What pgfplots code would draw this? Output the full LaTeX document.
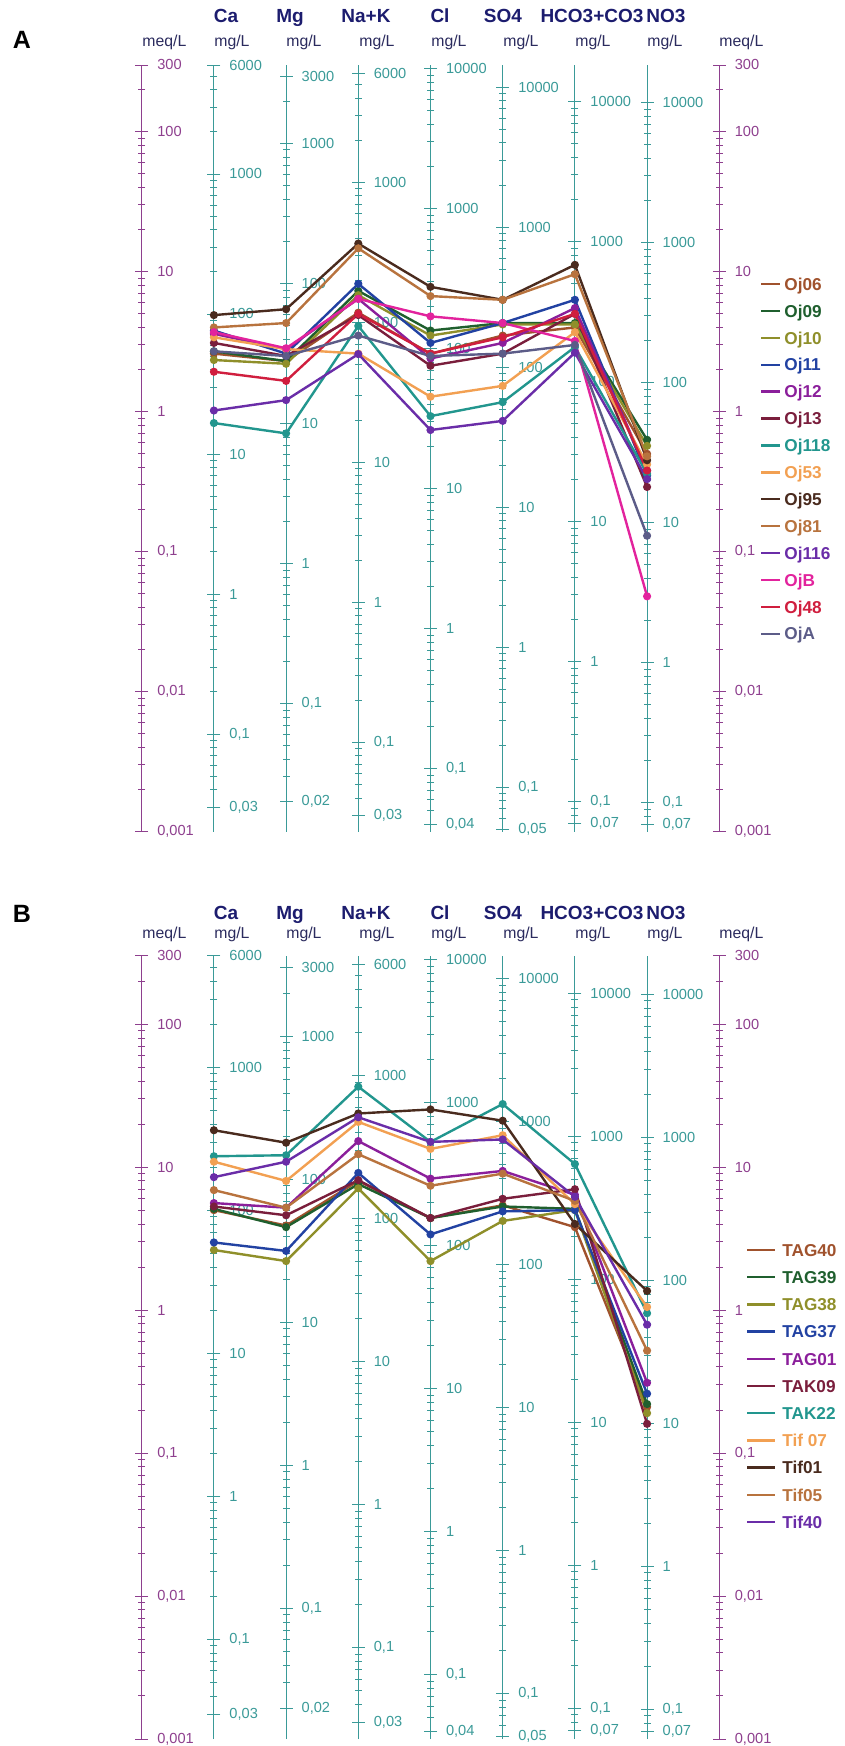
\documentclass[border=0pt]{standalone}
\usepackage{pgfplots}
\pgfplotsset{compat=1.18}
\usepackage{fontspec}
\setmainfont{Liberation Sans}

\definecolor{meqc}{HTML}{8E3F8E}
\definecolor{mgc}{HTML}{3A9A98}
\definecolor{hdr}{HTML}{1C1C6E}
\definecolor{unitc}{HTML}{2B2B5E}
\definecolor{cA1}{HTML}{A0522D}
\definecolor{cA2}{HTML}{1F5F2E}
\definecolor{cA3}{HTML}{8F8F2A}
\definecolor{cA4}{HTML}{2242A2}
\definecolor{cA5}{HTML}{8B1F9B}
\definecolor{cA6}{HTML}{7A1E3C}
\definecolor{cA7}{HTML}{22968E}
\definecolor{cA8}{HTML}{F2A052}
\definecolor{cA9}{HTML}{4A2B1E}
\definecolor{cA10}{HTML}{B8733E}
\definecolor{cA11}{HTML}{6A2DA8}
\definecolor{cA12}{HTML}{E2239D}
\definecolor{cA13}{HTML}{D01E3E}
\definecolor{cA14}{HTML}{5C5C88}

% #1 x, #2 ybottom, #3 height, #4 ymin, #5 ymax, #6 ticks, #7 labels, #8 colour
\newcommand\scaxM[8]{%
  \begin{axis}[scale only axis, width=8pt, xmin=0, xmax=1, ymode=log,
    axis x line=none, axis y line=right, anchor=south east,
    at={(#1,#2)}, height=#3, ymin=#4, ymax=#5,
    axis line style={-, line width=0.45pt, draw=#8},
    tick align=center, major tick length=6.5pt, minor tick length=3.5pt,
    tick style={line width=0.45pt, color=#8},
    yticklabel style={font=\fontsize{7.3}{8}\selectfont, xshift=1pt, text=#8},
    ytick={#6}, yticklabels={#7},
    minor ytick={0.002,0.003,0.004,0.005,0.006,0.007,0.008,0.009,0.02,0.03,0.04,0.05,0.06,0.07,0.08,0.09,0.2,0.3,0.4,0.5,0.6,0.7,0.8,0.9,2,3,4,5,6,7,8,9,20,30,40,50,60,70,80,90,200}]
  \end{axis}}
\newcommand\scaxI[8]{%
  \begin{axis}[scale only axis, width=8pt, xmin=0, xmax=1, ymode=log,
    axis x line=none, axis y line=right, anchor=south east,
    at={(#1,#2)}, height=#3, ymin=#4, ymax=#5,
    axis line style={-, line width=0.45pt, draw=#8},
    tick align=center, major tick length=6.5pt, minor tick length=3.5pt,
    tick style={line width=0.45pt, color=#8},
    yticklabel style={font=\fontsize{7.3}{8}\selectfont, xshift=1pt, text=#8},
    ytick={#6}, yticklabels={#7},
    minor ytick={0.02,0.03,0.04,0.05,0.06,0.07,0.08,0.09,0.2,0.3,0.4,0.5,0.6,0.7,0.8,0.9,2,3,4,5,6,7,8,9,20,30,40,50,60,70,80,90,200,300,400,500,600,700,800,900,2000,3000,4000,5000,6000,7000,8000,9000}]
  \end{axis}}

\newcommand\scales[2]{%
  \scaxM{70.85pt}{#1}{#2}{0.000999}{300.3}{0.001,0.01,0.1,1,10,100,300}{{0,001},{0,01},{0,1},1,10,100,300}{meqc}
  \scaxI{106.95pt}{#1}{#2}{0.02004}{6012}{0.03,0.1,1,10,100,1000,6000}{{0,03},{0,1},1,10,100,1000,6000}{mgc}
  \scaxI{143.05pt}{#1}{#2}{0.01215}{3645}{0.02,0.1,1,10,100,1000,3000}{{0,02},{0,1},1,10,100,1000,3000}{mgc}
  \scaxI{179.15pt}{#1}{#2}{0.023}{6900}{0.03,0.1,1,10,100,1000,6000}{{0,03},{0,1},1,10,100,1000,6000}{mgc}
  \scaxI{215.25pt}{#1}{#2}{0.03545}{10635}{0.04,0.1,1,10,100,1000,10000}{{0,04},{0,1},1,10,100,1000,10000}{mgc}
  \scaxI{251.35pt}{#1}{#2}{0.04803}{14409}{0.05,0.1,1,10,100,1000,10000}{{0,05},{0,1},1,10,100,1000,10000}{mgc}
  \scaxI{287.45pt}{#1}{#2}{0.06102}{18306}{0.07,0.1,1,10,100,1000,10000}{{0,07},{0,1},1,10,100,1000,10000}{mgc}
  \scaxI{323.55pt}{#1}{#2}{0.062}{18600}{0.07,0.1,1,10,100,1000,10000}{{0,07},{0,1},1,10,100,1000,10000}{mgc}
  \scaxM{359.65pt}{#1}{#2}{0.000999}{300.3}{0.001,0.01,0.1,1,10,100,300}{{0,001},{0,01},{0,1},1,10,100,300}{meqc}
}

% headers: #1 = baseline y of ion names, #2 = y of units, #3 letter, #4 y of letter
\newcommand\headers[4]{%
  \node[font=\bfseries\fontsize{12.5}{14}\selectfont] at (11pt,#4) {#3};
  \begin{scope}[every node/.style={font=\bfseries\fontsize{9.5}{11}\selectfont, text=hdr, anchor=base}]
    \node at (113pt,#1) {Ca};
    \node at (145pt,#1) {Mg};
    \node at (183pt,#1) {Na+K};
    \node at (220pt,#1) {Cl};
    \node at (251.5pt,#1) {SO4};
    \node at (296pt,#1) {HCO3+CO3};
    \node at (333pt,#1) {NO3};
  \end{scope}
  \begin{scope}[every node/.style={font=\fontsize{7.9}{9}\selectfont, text=unitc, anchor=west, inner sep=0pt}]
    \node at (71pt,#2) {meq/L};
    \node at (107pt,#2) {mg/L};
    \node at (143pt,#2) {mg/L};
    \node at (179.5pt,#2) {mg/L};
    \node at (215.5pt,#2) {mg/L};
    \node at (251.5pt,#2) {mg/L};
    \node at (287.5pt,#2) {mg/L};
    \node at (323.5pt,#2) {mg/L};
    \node at (359.5pt,#2) {meq/L};
  \end{scope}}

\pgfplotsset{ser/.style={color=#1, line width=1.2pt, mark=*, mark size=1.4pt,
    mark options={solid, fill=#1}}}

\begin{document}
\begin{tikzpicture}
\useasboundingbox (0pt,0pt) rectangle (422.5pt,-873pt);

\scales{-415.85pt}{383.4pt}
\scales{-869.5pt}{391.6pt}

\headers{-11pt}{-21pt}{A}{-20pt}
\headers{-459.5pt}{-467pt}{B}{-457pt}

% ---------------- Panel A ----------------
\begin{axis}[at={(70.85pt,-415.85pt)}, anchor=south west, scale only axis,
  width=288.8pt, height=383.4pt, xmin=0, xmax=8, ymode=log,
  ymin=0.000999, ymax=300.3, axis lines=none, clip=false,
  legend cell align=left,
  legend image code/.code={\draw[#1, line width=1.2pt] (0pt,0pt) -- (9.5pt,0pt);},
  legend style={at={(1.0705,0.7318)}, anchor=north west, draw=none, fill=none,
    inner sep=0pt, outer sep=0pt, row sep=0pt, column sep=1.5pt,
    nodes={inner sep=0pt, minimum height=13.45pt, text height=6.2pt, text depth=0pt,
      font=\bfseries\fontsize{8.6}{10}\selectfont}}]
\addplot[ser=cA1] coordinates {(1,2.6) (2,2.3) (3,5.1) (4,2.6) (5,3.5) (6,4.0) (7,0.50)};
\addlegendentry{\textcolor{cA1}{Oj06}}
\addplot[ser=cA2] coordinates {(1,2.7) (2,2.3) (3,7.3) (4,3.8) (5,4.3) (6,4.3) (7,0.63)};
\addlegendentry{\textcolor{cA2}{Oj09}}
\addplot[ser=cA3] coordinates {(1,2.34) (2,2.2) (3,6.8) (4,3.5) (5,4.2) (6,4.2) (7,0.57)};
\addlegendentry{\textcolor{cA3}{Oj10}}
\addplot[ser=cA4] coordinates {(1,3.8) (2,2.6) (3,8.2) (4,3.1) (5,4.3) (6,6.3) (7,0.35)};
\addlegendentry{\textcolor{cA4}{Oj11}}
\addplot[ser=cA5] coordinates {(1,3.6) (2,2.8) (3,6.4) (4,2.4) (5,3.1) (6,5.5) (7,0.38)};
\addlegendentry{\textcolor{cA5}{Oj12}}
\addplot[ser=cA6] coordinates {(1,3.1) (2,2.5) (3,4.9) (4,2.13) (5,2.6) (6,5.0) (7,0.29)};
\addlegendentry{\textcolor{cA6}{Oj13}}
\addplot[ser=cA7] coordinates {(1,0.83) (2,0.70) (3,4.1) (4,0.93) (5,1.17) (6,2.9) (7,0.36)};
\addlegendentry{\textcolor{cA7}{Oj118}}
\addplot[ser=cA8] coordinates {(1,3.4) (2,2.8) (3,2.6) (4,1.28) (5,1.53) (6,3.7) (7,0.42)};
\addlegendentry{\textcolor{cA8}{Oj53}}
\addplot[ser=cA9] coordinates {(1,4.9) (2,5.4) (3,15.9) (4,7.8) (5,6.3) (6,11.2) (7,0.45)};
\addlegendentry{\textcolor{cA9}{Oj95}}
\addplot[ser=cA10] coordinates {(1,4.0) (2,4.3) (3,14.7) (4,6.7) (5,6.3) (6,9.6) (7,0.48)};
\addlegendentry{\textcolor{cA10}{Oj81}}
\addplot[ser=cA11] coordinates {(1,1.02) (2,1.21) (3,2.58) (4,0.74) (5,0.86) (6,2.64) (7,0.33)};
\addlegendentry{\textcolor{cA11}{Oj116}}
\addplot[ser=cA12] coordinates {(1,3.7) (2,2.84) (3,6.4) (4,4.8) (5,4.3) (6,3.2) (7,0.048)};
\addlegendentry{\textcolor{cA12}{OjB}}
\addplot[ser=cA13] coordinates {(1,1.93) (2,1.66) (3,5.0) (4,2.6) (5,3.4) (6,5.0) (7,0.38)};
\addlegendentry{\textcolor{cA13}{Oj48}}
\addplot[ser=cA14] coordinates {(1,2.7) (2,2.5) (3,3.5) (4,2.5) (5,2.6) (6,3.0) (7,0.13)};
\addlegendentry{\textcolor{cA14}{OjA}}
\end{axis}

% ---------------- Panel B ----------------
\begin{axis}[at={(70.85pt,-869.5pt)}, anchor=south west, scale only axis,
  width=288.8pt, height=391.6pt, xmin=0, xmax=8, ymode=log,
  ymin=0.000999, ymax=300.3, axis lines=none, clip=false,
  legend cell align=left,
  legend image code/.code={\draw[#1, line width=1.2pt] (0pt,0pt) -- (14pt,0pt);},
  legend style={at={(1.0462,0.6417)}, anchor=north west, draw=none, fill=none,
    inner sep=0pt, outer sep=0pt, row sep=0pt, column sep=3pt,
    nodes={inner sep=0pt, minimum height=13.6pt, text height=6.2pt, text depth=0pt,
      font=\bfseries\fontsize{8.6}{10}\selectfont}}]
\addplot[ser=cA1] coordinates {(1,5.0) (2,3.9) (3,8.0) (4,4.4) (5,5.4) (6,3.8) (7,0.21)};
\addlegendentry{\textcolor{cA1}{TAG40}}
\addplot[ser=cA2] coordinates {(1,5.1) (2,3.8) (3,7.6) (4,4.4) (5,5.3) (6,5.1) (7,0.22)};
\addlegendentry{\textcolor{cA2}{TAG39}}
\addplot[ser=cA3] coordinates {(1,2.63) (2,2.2) (3,7.1) (4,2.2) (5,4.2) (6,5.0) (7,0.19)};
\addlegendentry{\textcolor{cA3}{TAG38}}
\addplot[ser=cA4] coordinates {(1,2.97) (2,2.59) (3,9.1) (4,3.38) (5,4.9) (6,5.0) (7,0.26)};
\addlegendentry{\textcolor{cA4}{TAG37}}
\addplot[ser=cA5] coordinates {(1,5.6) (2,5.2) (3,15.2) (4,8.3) (5,9.4) (6,6.4) (7,0.31)};
\addlegendentry{\textcolor{cA5}{TAG01}}
\addplot[ser=cA6] coordinates {(1,5.3) (2,4.6) (3,8.1) (4,4.4) (5,6.0) (6,7.0) (7,0.16)};
\addlegendentry{\textcolor{cA6}{TAK09}}
\addplot[ser=cA7] coordinates {(1,11.9) (2,12.1) (3,36.5) (4,15.0) (5,27.6) (6,10.5) (7,0.95)};
\addlegendentry{\textcolor{cA7}{TAK22}}
\addplot[ser=cA8] coordinates {(1,10.9) (2,8.0) (3,20.7) (4,13.4) (5,16.7) (6,5.5) (7,1.05)};
\addlegendentry{\textcolor{cA8}{Tif 07}}
\addplot[ser=cA9] coordinates {(1,18.1) (2,14.8) (3,23.7) (4,25.3) (5,21.1) (6,4.0) (7,1.36)};
\addlegendentry{\textcolor{cA9}{Tif01}}
\addplot[ser=cA10] coordinates {(1,6.9) (2,5.2) (3,12.3) (4,7.4) (5,9.0) (6,5.8) (7,0.52)};
\addlegendentry{\textcolor{cA10}{Tif05}}
\addplot[ser=cA11] coordinates {(1,8.5) (2,10.9) (3,22.3) (4,15.0) (5,15.6) (6,6.2) (7,0.79)};
\addlegendentry{\textcolor{cA11}{Tif40}}
\end{axis}

\end{tikzpicture}
\end{document}
